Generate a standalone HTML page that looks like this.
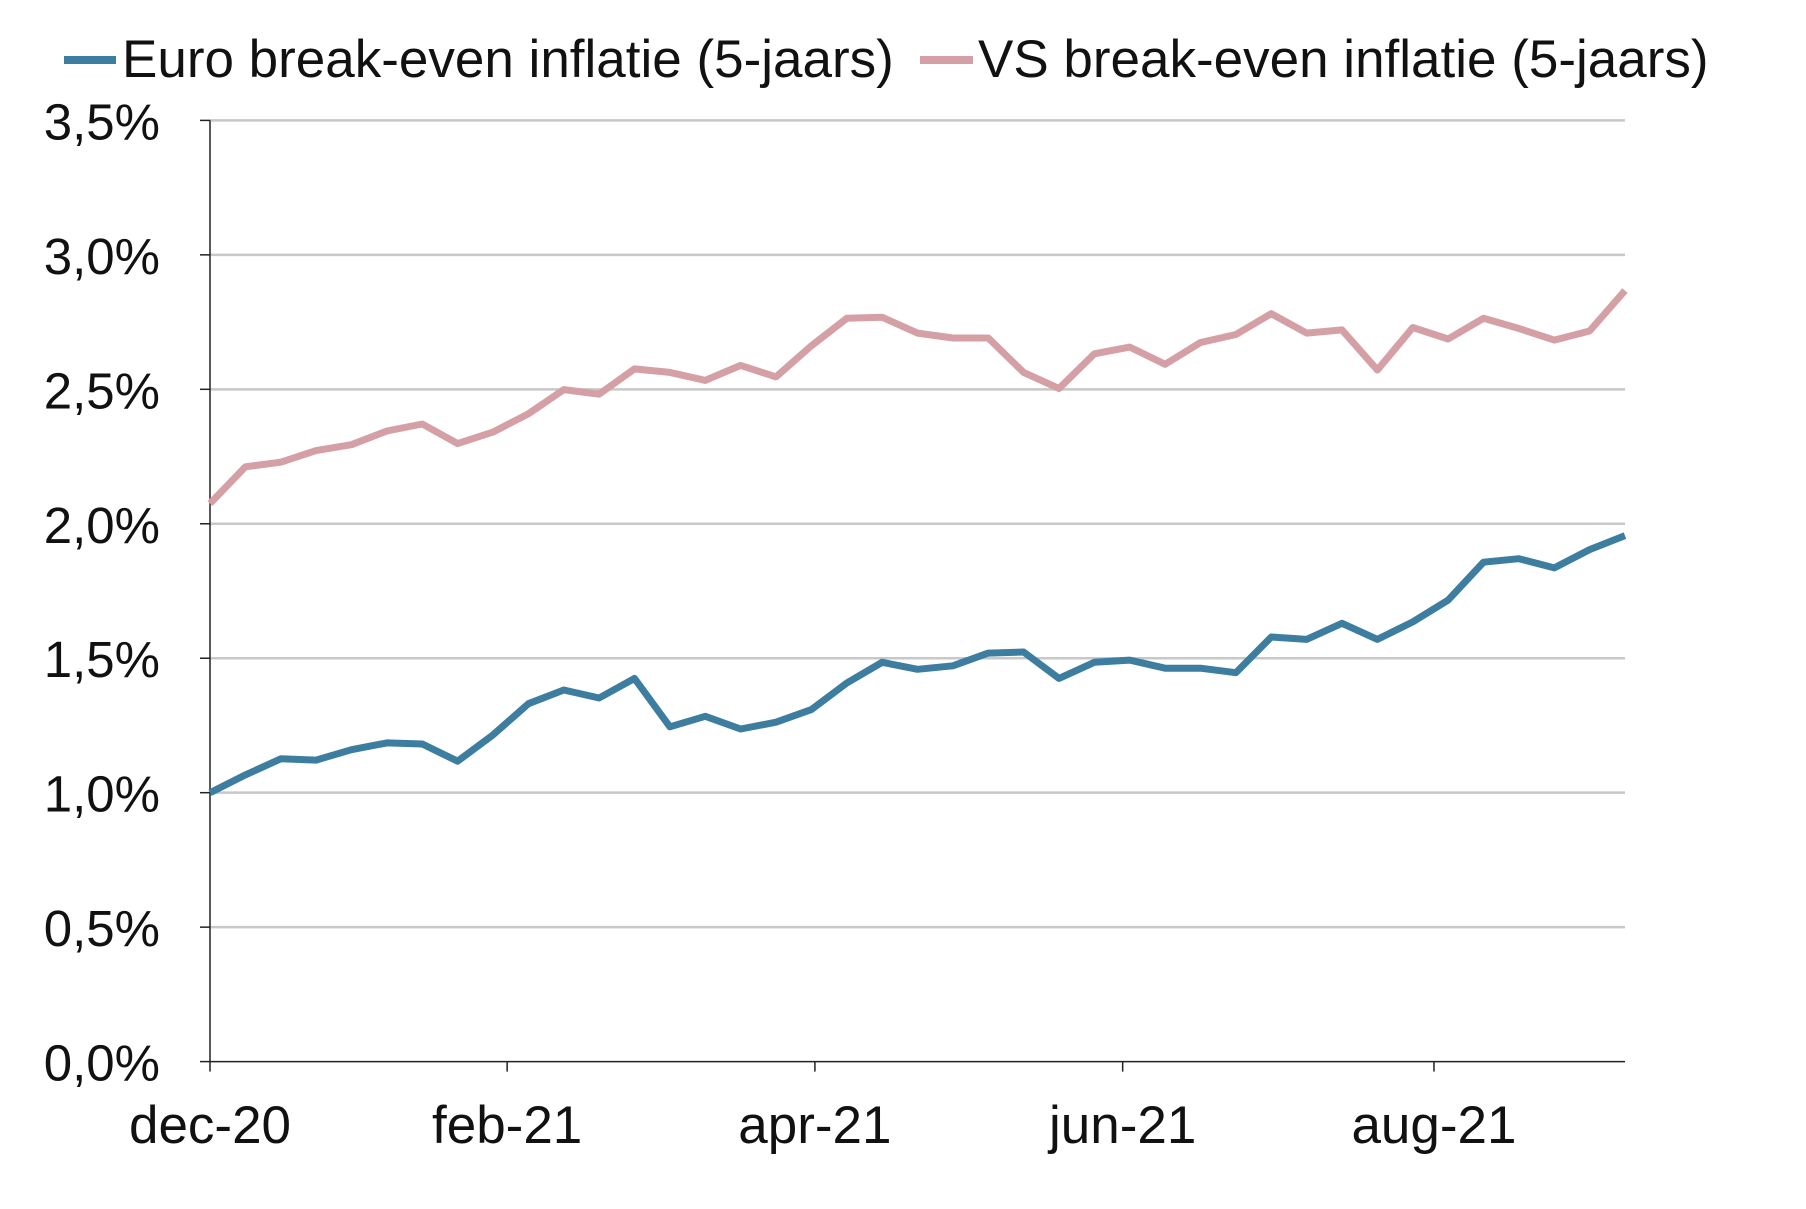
<!DOCTYPE html>
<html><head><meta charset="utf-8"><style>
html,body{margin:0;padding:0;background:#fff;}
svg{display:block;font-family:"Liberation Sans",sans-serif;}
</style></head><body>
<svg id="chart" width="1806" height="1209" viewBox="0 0 1806 1209" xmlns="http://www.w3.org/2000/svg">
<g id="legend">
  <g>
    <line x1="64" y1="60" x2="116" y2="60" stroke="#3d7ea0" stroke-width="8"/>
    <text x="122" y="77" font-size="53" fill="#111">Euro break-even inflatie (5-jaars)</text>
  </g>
  <g>
    <line x1="920" y1="60" x2="973" y2="60" stroke="#d4a0a6" stroke-width="8"/>
    <text x="978" y="77" font-size="53" fill="#111">VS break-even inflatie (5-jaars)</text>
  </g>
</g>
<g id="grid"></g>
<g id="axes"></g>
<g id="series"></g>
</svg>
<script>
const yTicks=[0,0.5,1,1.5,2,2.5,3,3.5];
const yTickLabels=["0,0%","0,5%","1,0%","1,5%","2,0%","2,5%","3,0%","3,5%"];
const xTickIdx=[0,8.4,17.1,25.8,34.6];
const xTickLabels=["dec-20","feb-21","apr-21","jun-21","aug-21"];
const euro=[1.00,1.066,1.126,1.121,1.160,1.185,1.181,1.117,1.215,1.331,1.382,1.352,1.425,1.245,1.284,1.237,1.262,1.309,1.408,1.485,1.459,1.472,1.519,1.523,1.425,1.485,1.493,1.463,1.463,1.446,1.579,1.570,1.630,1.570,1.635,1.716,1.857,1.870,1.836,1.904,1.956];
const vs=[2.075,2.212,2.229,2.272,2.294,2.345,2.371,2.298,2.341,2.409,2.499,2.482,2.576,2.563,2.533,2.589,2.546,2.662,2.764,2.768,2.709,2.691,2.691,2.563,2.503,2.632,2.657,2.593,2.674,2.704,2.781,2.709,2.721,2.572,2.730,2.687,2.764,2.726,2.683,2.717,2.867];
const NS="http://www.w3.org/2000/svg";
const L=210,R=1625,T=120.4,B=1061.6;
const n=euro.length;
function xs(i){return L+(R-L)*i/(n-1);}
function ys(v){return B-(B-T)*v/3.5;}
function mk(tag,attrs,parent){const e=document.createElementNS(NS,tag);for(const k in attrs)e.setAttribute(k,attrs[k]);parent.appendChild(e);return e;}
const grid=document.getElementById('grid'),axes=document.getElementById('axes'),series=document.getElementById('series');
yTicks.forEach((v,i)=>{
  const y=ys(v);
  if(v>0){const g=mk('line',{x1:L,x2:R,y1:y,y2:y,stroke:'#c8c8c8','stroke-width':2.5},grid);
  
  }
  const tk=mk('line',{x1:L-10,x2:L,y1:y,y2:y,stroke:'#222','stroke-width':1.5},axes);
  
  
  const t=mk('text',{x:160,y:y+19,'font-size':51,'text-anchor':'end',fill:'#111'},axes);
  t.textContent=yTickLabels[i];
  
  
});
const ya=mk('line',{x1:L,x2:L,y1:T,y2:B,stroke:'#222','stroke-width':1.5},axes);


const xa=mk('line',{x1:L,x2:R,y1:B,y2:B,stroke:'#222','stroke-width':1.5},axes);


xTickIdx.forEach((ix,i)=>{
  const x=xs(ix);
  const tk=mk('line',{x1:x,x2:x,y1:B,y2:B+10,stroke:'#222','stroke-width':1.5},axes);
  
  
  const t=mk('text',{x:x,y:1143,'font-size':53,'text-anchor':'middle',fill:'#111'},axes);
  t.textContent=xTickLabels[i];
  
  
});
function line(data,color,name){
  const p=mk('polyline',{points:data.map((v,i)=>xs(i).toFixed(1)+','+ys(v).toFixed(1)).join(' '),fill:'none',stroke:color,'stroke-width':7,'stroke-linejoin':'round'},series);
  
  
}
line(vs,'#d4a0a6','vs-line');
line(euro,'#3d7ea0','euro-line');
</script>
</body></html>
